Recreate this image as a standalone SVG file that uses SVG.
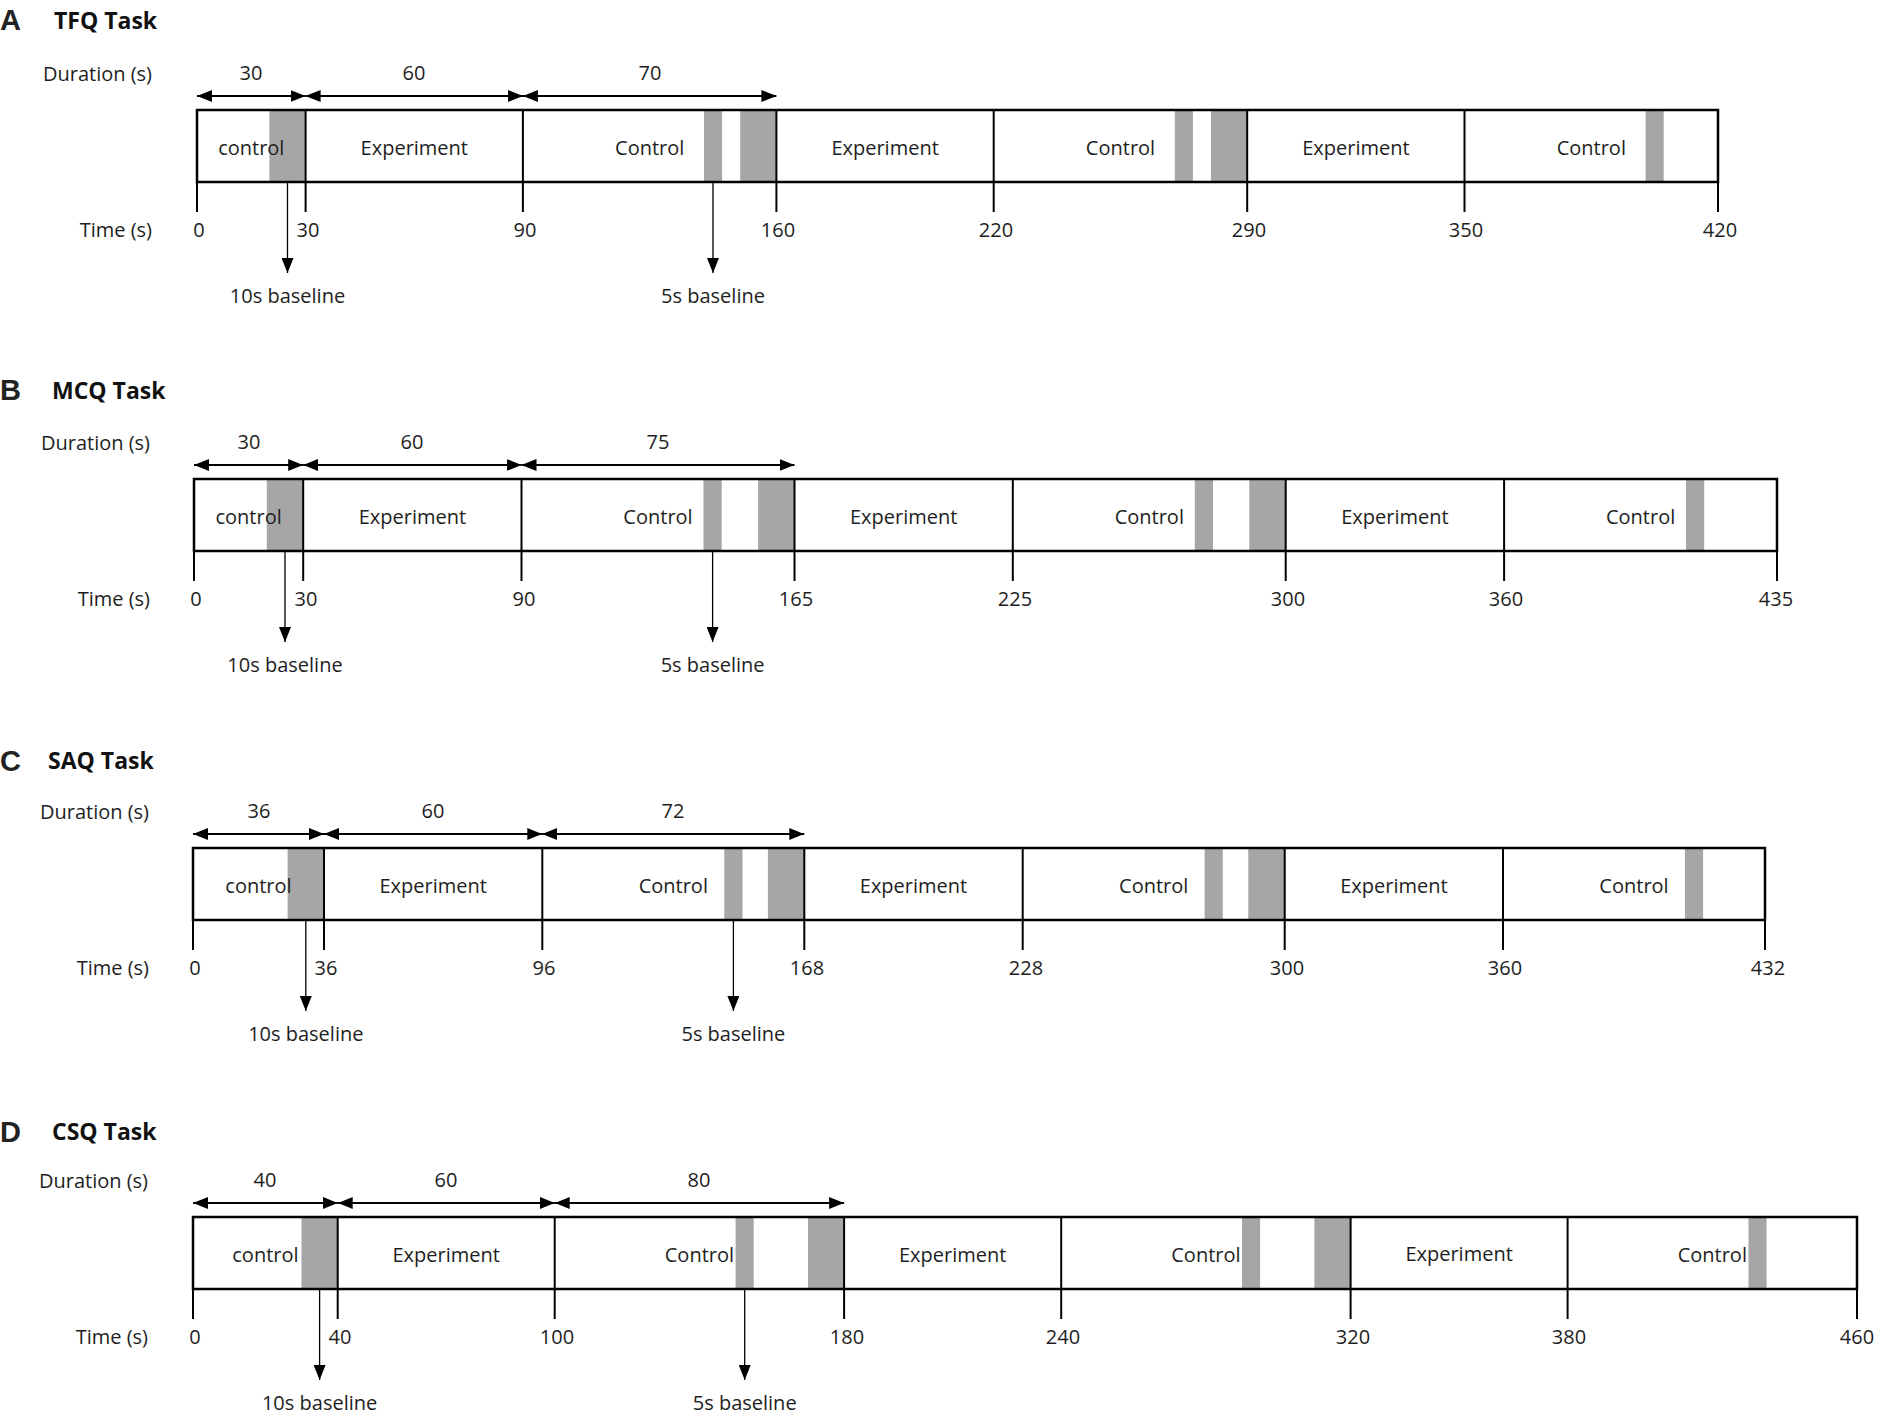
<svg xmlns="http://www.w3.org/2000/svg" width="1879" height="1421" viewBox="0 0 1879 1421">
<defs>
<marker id="ah" viewBox="0 0 15 12" refX="15" refY="6" markerWidth="15" markerHeight="12" markerUnits="userSpaceOnUse" orient="auto-start-reverse"><path d="M0,0 L15,6 L0,12 Z" fill="#000"/></marker>
<marker id="ah2" viewBox="0 0 15 12" refX="15" refY="6" markerWidth="15" markerHeight="12" markerUnits="userSpaceOnUse" orient="auto"><path d="M0,0 L15,6 L0,12 Z" fill="#000"/></marker>
</defs>
<style>
.t{font-family:"Open Sans","Liberation Sans",sans-serif;font-size:20px;fill:#1e1e1e}
.m{text-anchor:middle}
.e{text-anchor:end}
.ttl{font-family:"Open Sans","Liberation Sans",sans-serif;font-weight:bold;font-size:23px;fill:#111}
.let{font-family:"Liberation Sans",Arial,sans-serif;font-weight:bold;font-size:29px;fill:#222}
.band{fill:#a6a6a6}
.box{fill:none;stroke:#000;stroke-width:2.5}
.dv{stroke:#000;stroke-width:2}
.dur{stroke:#000;stroke-width:2;fill:none;marker-start:url(#ah);marker-end:url(#ah)}
.bl{stroke:#000;stroke-width:1.3;fill:none;marker-end:url(#ah2)}
</style>
<rect width="1879" height="1421" fill="#fff"/>

<!-- ================= PANEL A ================= -->
<g id="panel-A">
<text class="let" x="0" y="30">A</text>
<text class="ttl" x="54" y="29">TFQ Task</text>
<text class="t e" x="152" y="81">Duration (s)</text>
<text class="t e" x="152" y="237">Time (s)</text>
<text class="t m" x="251" y="80">30</text>
<text class="t m" x="414" y="80">60</text>
<text class="t m" x="650" y="80">70</text>
<g id="A-seg1"><rect class="band" x="269.4" y="110" width="36.2" height="72"/><text class="t m" x="251.3" y="155">control</text></g>
<g id="A-seg2"><text class="t m" x="414.3" y="155">Experiment</text></g>
<g id="A-seg3"><rect class="band" x="704.0" y="110" width="18.1" height="72"/><rect class="band" x="740.2" y="110" width="36.2" height="72"/><text class="t m" x="649.7" y="155">Control</text></g>
<g id="A-seg4"><text class="t m" x="885.1" y="155">Experiment</text></g>
<g id="A-seg5"><rect class="band" x="1174.8" y="110" width="18.1" height="72"/><rect class="band" x="1211.0" y="110" width="36.2" height="72"/><text class="t m" x="1120.5" y="155">Control</text></g>
<g id="A-seg6"><text class="t m" x="1355.9" y="155">Experiment</text></g>
<g id="A-seg7"><rect class="band" x="1645.6" y="110" width="18.1" height="72"/><text class="t m" x="1591.3" y="155">Control</text></g>
<rect class="box" x="197" y="110" width="1521" height="72"/>
<g id="A-ticks">
<line class="dv" x1="197" y1="110" x2="197" y2="212"/>
<line class="dv" x1="305.6" y1="110" x2="305.6" y2="212"/>
<line class="dv" x1="522.9" y1="110" x2="522.9" y2="212"/>
<line class="dv" x1="776.4" y1="110" x2="776.4" y2="212"/>
<line class="dv" x1="993.7" y1="110" x2="993.7" y2="212"/>
<line class="dv" x1="1247.2" y1="110" x2="1247.2" y2="212"/>
<line class="dv" x1="1464.5" y1="110" x2="1464.5" y2="212"/>
<line class="dv" x1="1718" y1="110" x2="1718" y2="212"/>
</g>
<text class="t m" x="199" y="237">0</text>
<text class="t m" x="308" y="237">30</text>
<text class="t m" x="525" y="237">90</text>
<text class="t m" x="778" y="237">160</text>
<text class="t m" x="996" y="237">220</text>
<text class="t m" x="1249" y="237">290</text>
<text class="t m" x="1466" y="237">350</text>
<text class="t m" x="1720" y="237">420</text>
<text class="t m" x="287.5" y="303">10s baseline</text>
<text class="t m" x="713" y="303">5s baseline</text>
</g>

<!-- ================= PANEL B ================= -->
<g id="panel-B">
<text class="let" x="0" y="400">B</text>
<text class="ttl" x="52" y="399">MCQ Task</text>
<text class="t e" x="150" y="450">Duration (s)</text>
<text class="t e" x="150" y="606">Time (s)</text>
<text class="t m" x="249" y="449">30</text>
<text class="t m" x="412" y="449">60</text>
<text class="t m" x="658" y="449">75</text>
<g id="B-seg1"><rect class="band" x="266.8" y="479" width="36.4" height="72"/><text class="t m" x="248.6" y="524">control</text></g>
<g id="B-seg2"><text class="t m" x="412.4" y="524">Experiment</text></g>
<g id="B-seg3"><rect class="band" x="703.5" y="479" width="18.2" height="72"/><rect class="band" x="758.1" y="479" width="36.4" height="72"/><text class="t m" x="658.0" y="524">Control</text></g>
<g id="B-seg4"><text class="t m" x="903.7" y="524">Experiment</text></g>
<g id="B-seg5"><rect class="band" x="1194.8" y="479" width="18.2" height="72"/><rect class="band" x="1249.3" y="479" width="36.4" height="72"/><text class="t m" x="1149.3" y="524">Control</text></g>
<g id="B-seg6"><text class="t m" x="1394.9" y="524">Experiment</text></g>
<g id="B-seg7"><rect class="band" x="1686.0" y="479" width="18.2" height="72"/><text class="t m" x="1640.6" y="524">Control</text></g>
<rect class="box" x="194" y="479" width="1583" height="72"/>
<g id="B-ticks">
<line class="dv" x1="194" y1="479" x2="194" y2="581"/>
<line class="dv" x1="303.2" y1="479" x2="303.2" y2="581"/>
<line class="dv" x1="521.5" y1="479" x2="521.5" y2="581"/>
<line class="dv" x1="794.5" y1="479" x2="794.5" y2="581"/>
<line class="dv" x1="1012.8" y1="479" x2="1012.8" y2="581"/>
<line class="dv" x1="1285.7" y1="479" x2="1285.7" y2="581"/>
<line class="dv" x1="1504.1" y1="479" x2="1504.1" y2="581"/>
<line class="dv" x1="1777" y1="479" x2="1777" y2="581"/>
</g>
<text class="t m" x="196" y="606">0</text>
<text class="t m" x="306" y="606">30</text>
<text class="t m" x="524" y="606">90</text>
<text class="t m" x="796" y="606">165</text>
<text class="t m" x="1015" y="606">225</text>
<text class="t m" x="1288" y="606">300</text>
<text class="t m" x="1506" y="606">360</text>
<text class="t m" x="1776" y="606">435</text>
<text class="t m" x="285" y="672">10s baseline</text>
<text class="t m" x="712.6" y="672">5s baseline</text>
</g>

<!-- ================= PANEL C ================= -->
<g id="panel-C">
<text class="let" x="0" y="771">C</text>
<text class="ttl" x="48" y="769">SAQ Task</text>
<text class="t e" x="149" y="819">Duration (s)</text>
<text class="t e" x="149" y="975">Time (s)</text>
<text class="t m" x="259" y="818">36</text>
<text class="t m" x="433" y="818">60</text>
<text class="t m" x="673" y="818">72</text>
<g id="C-seg1"><rect class="band" x="287.6" y="848" width="36.4" height="72"/><text class="t m" x="258.5" y="893">control</text></g>
<g id="C-seg2"><text class="t m" x="433.2" y="893">Experiment</text></g>
<g id="C-seg3"><rect class="band" x="724.3" y="848" width="18.2" height="72"/><rect class="band" x="767.9" y="848" width="36.4" height="72"/><text class="t m" x="673.3" y="893">Control</text></g>
<g id="C-seg4"><text class="t m" x="913.5" y="893">Experiment</text></g>
<g id="C-seg5"><rect class="band" x="1204.6" y="848" width="18.2" height="72"/><rect class="band" x="1248.3" y="848" width="36.4" height="72"/><text class="t m" x="1153.7" y="893">Control</text></g>
<g id="C-seg6"><text class="t m" x="1393.9" y="893">Experiment</text></g>
<g id="C-seg7"><rect class="band" x="1684.9" y="848" width="18.2" height="72"/><text class="t m" x="1634.0" y="893">Control</text></g>
<rect class="box" x="193" y="848" width="1572" height="72"/>
<g id="C-ticks">
<line class="dv" x1="193" y1="848" x2="193" y2="950"/>
<line class="dv" x1="324.0" y1="848" x2="324.0" y2="950"/>
<line class="dv" x1="542.3" y1="848" x2="542.3" y2="950"/>
<line class="dv" x1="804.3" y1="848" x2="804.3" y2="950"/>
<line class="dv" x1="1022.7" y1="848" x2="1022.7" y2="950"/>
<line class="dv" x1="1284.7" y1="848" x2="1284.7" y2="950"/>
<line class="dv" x1="1503.0" y1="848" x2="1503.0" y2="950"/>
<line class="dv" x1="1765" y1="848" x2="1765" y2="950"/>
</g>
<text class="t m" x="195" y="975">0</text>
<text class="t m" x="326" y="975">36</text>
<text class="t m" x="544" y="975">96</text>
<text class="t m" x="807" y="975">168</text>
<text class="t m" x="1026" y="975">228</text>
<text class="t m" x="1287" y="975">300</text>
<text class="t m" x="1505" y="975">360</text>
<text class="t m" x="1768" y="975">432</text>
<text class="t m" x="305.8" y="1041">10s baseline</text>
<text class="t m" x="733.4" y="1041">5s baseline</text>
</g>

<!-- ================= PANEL D ================= -->
<g id="panel-D">
<text class="let" x="0" y="1142">D</text>
<text class="ttl" x="52" y="1140">CSQ Task</text>
<text class="t e" x="148" y="1188">Duration (s)</text>
<text class="t e" x="148" y="1344">Time (s)</text>
<text class="t m" x="265" y="1187">40</text>
<text class="t m" x="446" y="1187">60</text>
<text class="t m" x="699" y="1187">80</text>
<g id="D-seg1"><rect class="band" x="301.5" y="1217" width="36.2" height="72"/><text class="t m" x="265.4" y="1262">control</text></g>
<g id="D-seg2"><text class="t m" x="446.2" y="1262">Experiment</text></g>
<g id="D-seg3"><rect class="band" x="735.6" y="1217" width="18.1" height="72"/><rect class="band" x="808.0" y="1217" width="36.1" height="72"/><text class="t m" x="699.4" y="1262">Control</text></g>
<g id="D-seg4"><text class="t m" x="952.7" y="1262">Experiment</text></g>
<g id="D-seg5"><rect class="band" x="1242.0" y="1217" width="18.1" height="72"/><rect class="band" x="1314.4" y="1217" width="36.2" height="72"/><text class="t m" x="1205.9" y="1262">Control</text></g>
<g id="D-seg6"><text class="t m" x="1459.1" y="1261">Experiment</text></g>
<g id="D-seg7"><rect class="band" x="1748.5" y="1217" width="18.1" height="72"/><text class="t m" x="1712.3" y="1262">Control</text></g>
<rect class="box" x="193" y="1217" width="1664" height="72"/>
<g id="D-ticks">
<line class="dv" x1="193" y1="1217" x2="193" y2="1319"/>
<line class="dv" x1="337.7" y1="1217" x2="337.7" y2="1319"/>
<line class="dv" x1="554.7" y1="1217" x2="554.7" y2="1319"/>
<line class="dv" x1="844.1" y1="1217" x2="844.1" y2="1319"/>
<line class="dv" x1="1061.2" y1="1217" x2="1061.2" y2="1319"/>
<line class="dv" x1="1350.6" y1="1217" x2="1350.6" y2="1319"/>
<line class="dv" x1="1567.6" y1="1217" x2="1567.6" y2="1319"/>
<line class="dv" x1="1857" y1="1217" x2="1857" y2="1319"/>
</g>
<text class="t m" x="195" y="1344">0</text>
<text class="t m" x="340" y="1344">40</text>
<text class="t m" x="557" y="1344">100</text>
<text class="t m" x="847" y="1344">180</text>
<text class="t m" x="1063" y="1344">240</text>
<text class="t m" x="1353" y="1344">320</text>
<text class="t m" x="1569" y="1344">380</text>
<text class="t m" x="1857" y="1344">460</text>
<text class="t m" x="319.6" y="1410">10s baseline</text>
<text class="t m" x="744.7" y="1410">5s baseline</text>
</g>

<!-- ================= CONNECTORS ================= -->
<g id="connectors">
<line class="dur" x1="197" y1="96" x2="305.6" y2="96"/>
<line class="dur" x1="305.6" y1="96" x2="522.9" y2="96"/>
<line class="dur" x1="522.9" y1="96" x2="776.4" y2="96"/>
<line class="bl" x1="287.5" y1="182" x2="287.5" y2="273"/>
<line class="bl" x1="713" y1="182" x2="713" y2="273"/>

<line class="dur" x1="194" y1="465" x2="303.2" y2="465"/>
<line class="dur" x1="303.2" y1="465" x2="521.5" y2="465"/>
<line class="dur" x1="521.5" y1="465" x2="794.5" y2="465"/>
<line class="bl" x1="285" y1="551" x2="285" y2="642"/>
<line class="bl" x1="712.6" y1="551" x2="712.6" y2="642"/>

<line class="dur" x1="193" y1="834" x2="324.0" y2="834"/>
<line class="dur" x1="324.0" y1="834" x2="542.3" y2="834"/>
<line class="dur" x1="542.3" y1="834" x2="804.3" y2="834"/>
<line class="bl" x1="305.8" y1="920" x2="305.8" y2="1011"/>
<line class="bl" x1="733.4" y1="920" x2="733.4" y2="1011"/>

<line class="dur" x1="193" y1="1203" x2="337.7" y2="1203"/>
<line class="dur" x1="337.7" y1="1203" x2="554.7" y2="1203"/>
<line class="dur" x1="554.7" y1="1203" x2="844.1" y2="1203"/>
<line class="bl" x1="319.6" y1="1289" x2="319.6" y2="1380"/>
<line class="bl" x1="744.7" y1="1289" x2="744.7" y2="1380"/>
</g>
</svg>
